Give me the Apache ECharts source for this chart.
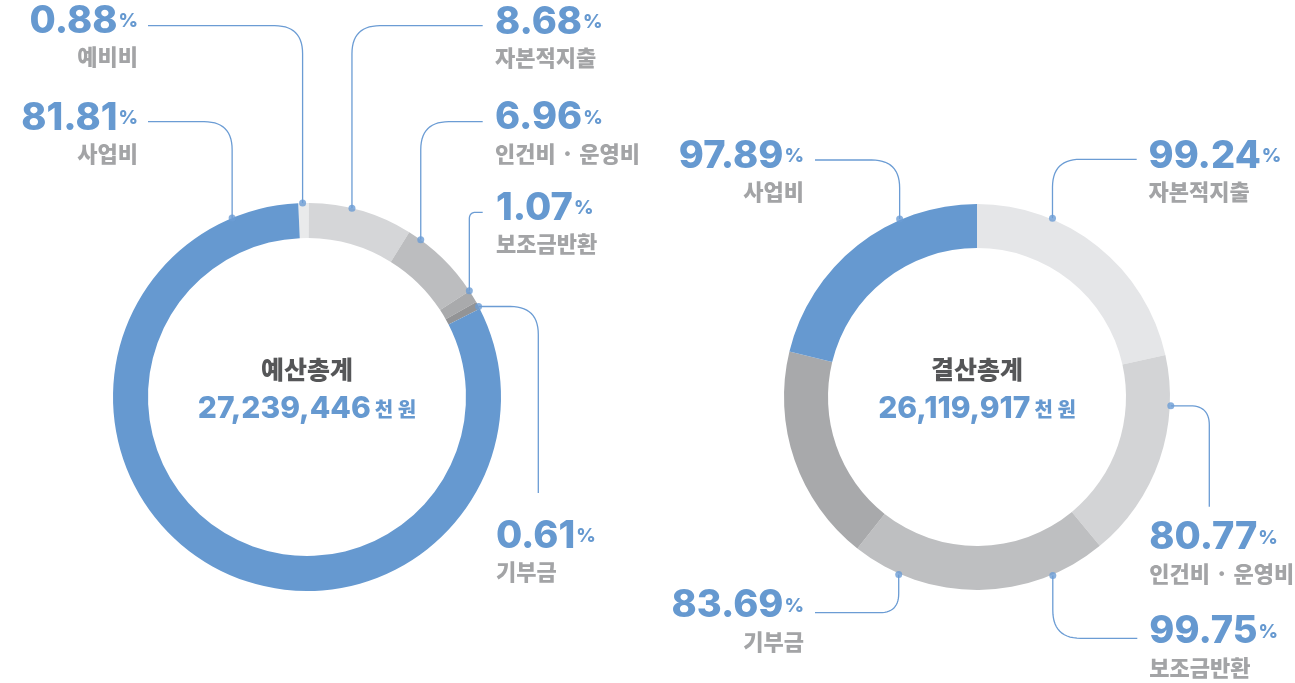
<!DOCTYPE html>
<html>
<head>
<meta charset="utf-8">
<script src="https://cdn.jsdelivr.net/npm/echarts@6/dist/echarts.min.js"></script>
<style>
  html, body { margin: 0; padding: 0; background: #ffffff; }
  #chart { width: 1295px; height: 683px; }
</style>
</head>
<body>
<div id="chart"></div>
<script>
// 예산 구성비 (%)
const budgetCategories = ['예비비', '자본적지출', '인건비 · 운영비', '보조금반환', '기부금', '사업비'];
const budgetShares = [0.88, 8.68, 6.96, 1.07, 0.61, 81.81];
const budgetTotal = '27,239,446';

// 결산 집행률 (%)
const settleCategories = ['자본적지출', '인건비 · 운영비', '보조금반환', '기부금', '사업비'];
const settleRates = [99.24, 80.77, 99.75, 83.69, 97.89];
const settleTotal = '26,119,917';

const unitText = '천 원';

// ---- styling / layout ----
const BLUE = '#6699d0';
const LINE_BLUE = '#6b9cd4';
const NAME_GRAY = '#a3a4a6';
const TITLE_GRAY = '#555658';
const NUM_FONT = 'Inter, "Noto Sans", sans-serif';
const KR_FONT = '"Noto Sans CJK KR", sans-serif';
const DOT_R = 194;          // radius of the callout dots (on the outer rim)
const CORNER_R = 28;        // rounded corner of the callout lines

// Callouts: angle = clockwise degrees from 12 o'clock for the rim dot,
// bend = first leg direction ('v' vertical / 'h' horizontal), end = line end,
// text = [anchor x, centre y of the percentage line], align = text alignment
const rings = [
  {
    names: budgetCategories, values: budgetShares, title: '예산총계', total: budgetTotal,
    center: [307, 397], radius: [159, 194], startAngle: 92.6,
    colors: ['#e9eaeb', '#d5d6d8', '#bcbdbf', '#a9aaac', '#939496', BLUE],
    callouts: [
      { angle: 358.7, bend: 'v', end: [148, 25.7],   text: [138, 21.5],  align: 'right' },
      { angle: 13.4,  bend: 'v', end: [482.7, 25.7], text: [495, 22.5],  align: 'left' },
      { angle: 35.9,  bend: 'v', end: [482.7, 121.7], text: [495, 118],  align: 'left' },
      { angle: 56.8,  bend: 'v', end: [482.7, 212.3], text: [496, 208.3], align: 'left' },
      { angle: 62.2,  bend: 'h', end: [538.3, 493],  text: [496, 536.3], align: 'left' },
      { angle: 337.3, bend: 'v', end: [148, 121.7],  text: [138, 118.5], align: 'right' }
    ]
  },
  {
    names: settleCategories, values: settleRates, title: '결산총계', total: settleTotal,
    center: [977, 397], radius: [149, 193], startAngle: 90,
    colors: ['#e5e6e8', '#d3d4d6', '#bebfc1', '#a8a9ab', BLUE],
    callouts: [
      { angle: 22.9,  bend: 'v', end: [1136.7, 159.3], text: [1148.5, 156.5], align: 'left' },
      { angle: 92.6,  bend: 'h', end: [1209.3, 506.7], text: [1149.3, 537.9], align: 'left' },
      { angle: 157,   bend: 'v', end: [1137.3, 638.3], text: [1149.3, 632],   align: 'left' },
      { angle: 203.8, bend: 'v', end: [815, 612.7],    text: [804, 606],      align: 'right' },
      { angle: 336.5, bend: 'v', end: [815, 160],      text: [804, 156.5],    align: 'right' }
    ]
  }
];

const chart = echarts.init(document.getElementById('chart'), null, { renderer: 'canvas' });

function rimPoint(k, angle) {
  let p = null;
  try { p = chart.convertToPixel({ polarIndex: k }, [DOT_R, angle]); } catch (e) { p = null; }
  if (!p || isNaN(p[0])) {
    const c = rings[k].center, a = angle * Math.PI / 180;
    p = [c[0] + DOT_R * Math.sin(a), c[1] - DOT_R * Math.cos(a)];
  }
  return p;
}

// dot -> elbow -> end, with the elbow rounded off
function calloutPoints(k, c) {
  const p0 = rimPoint(k, c.angle);
  const p2 = c.end;
  const p1 = c.bend === 'v' ? [p0[0], p2[1]] : [p2[0], p0[1]];
  const len1 = Math.hypot(p0[0] - p1[0], p0[1] - p1[1]);
  const len2 = Math.hypot(p2[0] - p1[0], p2[1] - p1[1]);
  const r = Math.min(CORNER_R, len1 * 0.5, len2 * 0.5);
  if (r < 1) return [p0, p1, p2];
  const a = [p1[0] + (p0[0] - p1[0]) / len1 * r, p1[1] + (p0[1] - p1[1]) / len1 * r];
  const b = [p1[0] + (p2[0] - p1[0]) / len2 * r, p1[1] + (p2[1] - p1[1]) / len2 * r];
  const pts = [p0, a];
  const n = 14;
  for (let i = 1; i < n; i++) {
    const t = i / n, u = 1 - t;
    pts.push([u * u * a[0] + 2 * u * t * p1[0] + t * t * b[0],
              u * u * a[1] + 2 * u * t * p1[1] + t * t * b[1]]);
  }
  pts.push(b, p2);
  return pts;
}

const labelRich = {
  v: { fontFamily: NUM_FONT, fontWeight: 800, fontSize: 38, color: BLUE, lineHeight: 44 },
  p: { fontFamily: NUM_FONT, fontWeight: 800, fontSize: 19, color: BLUE, lineHeight: 44, padding: [0, 0, 0, 1] },
  n: { fontFamily: KR_FONT, fontWeight: 900, fontSize: 22, color: NAME_GRAY, lineHeight: 27 }
};

const series = [];
const polar = [], angleAxis = [], radiusAxis = [], title = [];

rings.forEach((ring, k) => {
  series.push({
    type: 'pie',
    center: ring.center,
    radius: ring.radius,
    startAngle: ring.startAngle,
    clockwise: true,
    avoidLabelOverlap: false,
    silent: true,
    emphasis: { disabled: true },
    data: ring.names.map((name, i) => ({
      name, value: ring.values[i],
      itemStyle: { color: ring.colors[i] }
    })),
    label: {
      show: true,
      position: 'outside',
      formatter: (p) => '{v|' + p.value.toFixed(2) + '}{p|%}\n{n|' + p.name + '}',
      rich: labelRich
    },
    labelLine: { show: true, smooth: false, lineStyle: { color: LINE_BLUE, width: 1.3 } },
    labelLayout: (p) => {
      const c = ring.callouts[p.dataIndex];
      return {
        x: c.text[0], y: c.text[1] - 22,
        align: c.align, verticalAlign: 'top',
        labelLinePoints: calloutPoints(k, c)
      };
    }
  });

  polar.push({ center: ring.center, radius: DOT_R });
  angleAxis.push({ polarIndex: k, type: 'value', min: 0, max: 360, startAngle: 90, clockwise: true, show: false });
  radiusAxis.push({ polarIndex: k, type: 'value', min: 0, max: DOT_R, show: false });

  series.push({
    type: 'scatter',
    coordinateSystem: 'polar',
    polarIndex: k,
    clip: false,
    silent: true,
    z: 5,
    symbol: 'circle',
    symbolSize: 7,
    itemStyle: { color: LINE_BLUE },
    data: ring.callouts.map(c => [DOT_R, c.angle])
  });

  title.push({
    text: ring.title,
    subtext: '{n|' + ring.total + '}{u|' + unitText + '}',
    left: ring.center[0],
    top: 353,
    textAlign: 'center',
    padding: 0,
    itemGap: 6,
    textStyle: { fontFamily: KR_FONT, fontWeight: 900, fontSize: 25, color: TITLE_GRAY, lineHeight: 32 },
    subtextStyle: {
      rich: {
        n: { fontFamily: NUM_FONT, fontWeight: 800, fontSize: 30, color: BLUE, lineHeight: 36 },
        u: { fontFamily: KR_FONT, fontWeight: 900, fontSize: 20, color: BLUE, lineHeight: 36, padding: [0, 0, 0, 4] }
      }
    }
  });
});

chart.setOption({
  animation: false,
  backgroundColor: '#ffffff',
  title,
  polar,
  angleAxis,
  radiusAxis,
  series
});
</script>
</body>
</html>
